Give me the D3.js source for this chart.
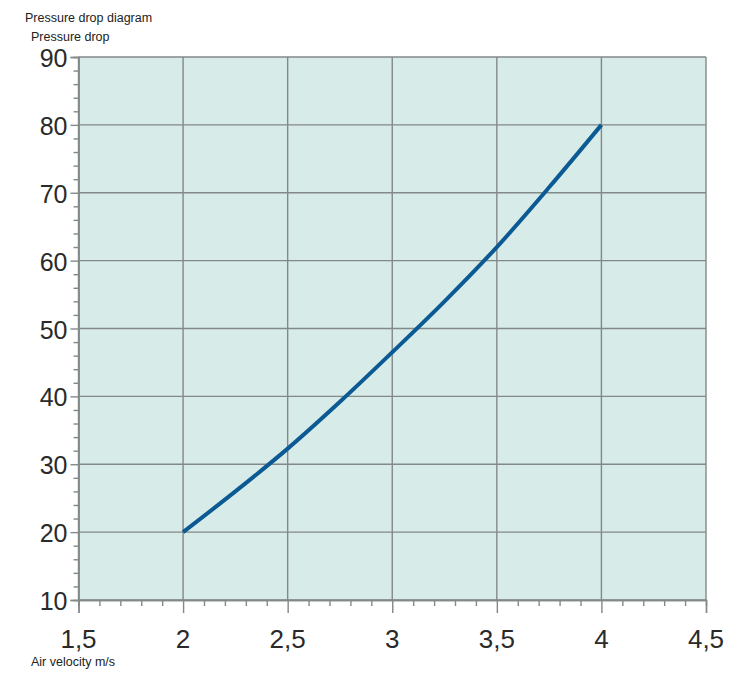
<!DOCTYPE html>
<html>
<head>
<meta charset="utf-8">
<script src="https://cdn.jsdelivr.net/npm/d3@7"></script>
<style>
  body { margin: 0; background: #fff; }
  svg text { font-family: Arial, "Liberation Sans", sans-serif; }
</style>
</head>
<body>
<div class="chart"></div>
<script>
// data
var velocity = [2, 2.25, 2.5, 2.75, 3, 3.25, 3.5, 3.75, 4];
var pressureDrop = [20, 26, 32.3, 39.2, 46.5, 54, 62, 70.8, 80];
var xTicks = [1.5, 2, 2.5, 3, 3.5, 4, 4.5];
var yTicks = [10, 20, 30, 40, 50, 60, 70, 80, 90];

var svgWidth = 735;
var svgHeight = 678;

var margin = { top: 57, bottom: 78, right: 29, left: 78.5 };
var width = 706 - margin.left;
var height = 600 - margin.top;

var svg = d3
  .select(".chart")
  .append("svg")
  .attr("width", svgWidth)
  .attr("height", svgHeight);

var chartGroup = svg
  .append("g")
  .attr("transform", `translate(${margin.left}, ${margin.top})`);

var xScale = d3.scaleLinear().domain([1.5, 4.5]).range([0, width]);
var yScale = d3.scaleLinear().domain([10, 90]).range([height, 0]);

var gridColor = "#838888";
var fmt = (d) => String(d).replace(".", ",");

// plot background
chartGroup
  .append("rect")
  .attr("width", width)
  .attr("height", height)
  .attr("fill", "#d7ebe8");

// grid lines
chartGroup
  .selectAll(".vgrid")
  .data(xTicks)
  .enter()
  .append("line")
  .attr("x1", (d) => xScale(d))
  .attr("x2", (d) => xScale(d))
  .attr("y1", 0)
  .attr("y2", height)
  .attr("stroke", gridColor)
  .attr("stroke-width", 1.4);

chartGroup
  .selectAll(".hgrid")
  .data(yTicks)
  .enter()
  .append("line")
  .attr("x1", 0)
  .attr("x2", width)
  .attr("y1", (d) => yScale(d))
  .attr("y2", (d) => yScale(d))
  .attr("stroke", gridColor)
  .attr("stroke-width", 1.4);

// minor ticks: 0.1 on x, 2 on y
var xMinor = d3.range(15, 45).map((d) => d / 10).filter((d) => xTicks.indexOf(d) < 0);
var yMinor = d3.range(10, 90, 2).filter((d) => yTicks.indexOf(d) < 0);

var xAxis = d3.axisBottom(xScale).tickValues(xTicks).tickSize(13).tickFormat("");
var xAxisMinor = d3.axisBottom(xScale).tickValues(xMinor).tickSize(6).tickFormat("");
var yAxis = d3.axisLeft(yScale).tickValues(yTicks).tickSize(8).tickPadding(3).tickFormat(fmt);
var yAxisMinor = d3.axisLeft(yScale).tickValues(yMinor).tickSize(5).tickFormat("");

function styleAxis(g) {
  g.select(".domain").attr("stroke", gridColor).attr("stroke-width", 1.4);
  g.selectAll(".tick line").attr("stroke", gridColor).attr("stroke-width", 1.4);
}

chartGroup.append("g").attr("transform", `translate(0, ${height})`).call(xAxisMinor).call(styleAxis);
chartGroup.append("g").attr("transform", `translate(0, ${height})`).call(xAxis).call(styleAxis);
chartGroup.append("g").call(yAxisMinor).call(styleAxis);
var yG = chartGroup.append("g").call(yAxis).call(styleAxis);
yG.selectAll(".tick text")
  .attr("font-size", 25)
  .attr("font-family", "Arial, 'Liberation Sans', sans-serif")
  .attr("fill", "#2a2a2a")
  .attr("dy", "0.38em");

// x labels
chartGroup
  .selectAll(".xlabel")
  .data(xTicks)
  .enter()
  .append("text")
  .attr("x", (d) => xScale(d))
  .attr("y", height + 48)
  .attr("text-anchor", "middle")
  .attr("font-size", 26)
  .attr("fill", "#2a2a2a")
  .text(fmt);

// curve
var line = d3
  .line()
  .x((d, i) => xScale(velocity[i]))
  .y((d) => yScale(d))
  .curve(d3.curveCatmullRom.alpha(0.5));

chartGroup
  .append("path")
  .datum(pressureDrop)
  .attr("d", line)
  .attr("fill", "none")
  .attr("stroke", "#0c5a94")
  .attr("stroke-width", 4);

// titles
svg.append("text").attr("x", 25).attr("y", 22).attr("font-size", 12.5).attr("fill", "#222").text("Pressure drop diagram");
svg.append("text").attr("x", 31).attr("y", 41).attr("font-size", 12.5).attr("fill", "#222").text("Pressure drop");
svg.append("text").attr("x", 31).attr("y", 666).attr("font-size", 12.5).attr("fill", "#222").text("Air velocity m/s");
</script>
</body>
</html>
